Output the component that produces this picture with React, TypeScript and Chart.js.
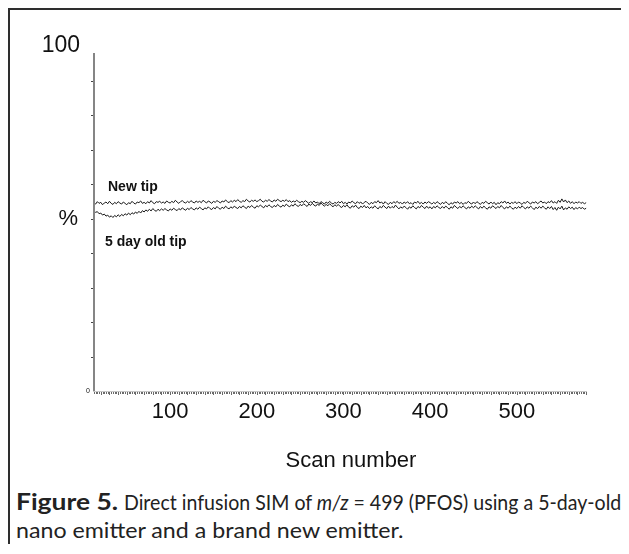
import React, { useEffect, useLayoutEffect, useRef } from "react";
import { Chart, registerables } from "chart.js";

Chart.register(...registerables);

// ---- data ----
const scanStart = 12;
const scanStep = 2;

const newTipSeries = "New tip";
const oldTipSeries = "5 day old tip";

const newTip = [
  54.6, 54.2, 54.9, 54.4, 54.7, 54.0, 54.5, 54.8, 54.3, 55.0, 54.4, 54.1, 54.7, 54.3, 54.9, 54.5, 54.2, 54.8, 54.4, 54.0,
  54.6, 54.3, 55.0, 54.5, 54.2, 54.8, 54.6, 55.1, 54.4, 54.7, 54.3, 54.9, 54.5, 55.2, 54.6, 54.3, 54.9, 54.7, 55.0, 54.5,
  54.8, 54.4, 55.1, 54.7, 54.5, 55.0, 54.6, 55.3, 54.8, 54.4, 54.9, 55.2, 54.7, 54.5, 55.0, 54.6, 55.2, 54.8, 54.5, 55.1,
  54.7, 55.0, 54.6, 55.3, 54.9, 54.5, 55.1, 54.8, 54.4, 55.0, 54.7, 55.2, 54.9, 54.5, 55.1, 54.8, 55.4, 54.9, 54.6, 55.2,
  54.8, 55.3, 54.9, 55.5, 55.0, 54.7, 55.2, 54.9, 55.6, 55.1, 54.8, 55.3, 55.0, 55.4, 54.9, 55.2, 55.6, 55.0, 54.8, 55.3,
  55.0, 55.5, 55.1, 54.8, 55.4, 55.0, 55.6, 55.2, 54.9, 55.3, 55.0, 55.5, 54.9, 55.2, 54.7, 55.1, 54.8, 55.3, 54.9, 54.6,
  55.0, 54.7, 55.2, 54.8, 54.4, 54.9, 54.6, 55.1, 54.5, 54.8, 54.3, 54.9, 54.6, 54.2, 54.8, 54.4, 55.0, 54.5, 54.2, 54.7,
  54.4, 54.9, 54.5, 55.0, 54.3, 54.7, 54.2, 54.8, 54.5, 55.1, 54.6, 54.3, 54.9, 54.4, 54.8, 54.2, 54.7, 55.0, 54.5, 54.1,
  54.7, 54.3, 54.9, 54.6, 55.2, 54.5, 54.8, 54.2, 54.9, 54.4, 54.1, 54.7, 54.3, 54.9, 54.5, 55.0, 54.4, 54.7, 54.2, 54.8,
  54.4, 54.9, 54.3, 54.6, 54.1, 54.8, 54.5, 55.0, 54.3, 54.7, 54.2, 54.8, 54.4, 54.9, 54.6, 54.2, 54.7, 54.3, 54.9, 54.5,
  54.1, 54.7, 54.3, 54.9, 54.4, 54.0, 54.6, 54.2, 54.8, 54.5, 54.9, 54.3, 54.7, 54.1, 54.6, 54.4, 55.0, 54.5, 54.2, 54.8,
  54.3, 54.9, 54.5, 54.1, 54.7, 54.4, 55.0, 54.6, 54.2, 54.8, 54.3, 54.7, 54.0, 54.6, 54.3, 54.9, 54.5, 55.1, 54.4, 54.8,
  54.2, 54.7, 54.4, 54.9, 54.3, 54.8, 54.5, 54.1, 54.7, 54.4, 55.0, 54.6, 54.2, 54.8, 54.5, 54.9, 54.3, 54.7, 55.1, 54.5,
  54.8, 54.3, 54.9, 54.6, 55.2, 54.5, 54.9, 54.4, 55.3, 54.7, 55.7, 54.8, 55.4, 54.6, 55.1, 54.4, 54.9, 54.3, 54.8, 54.5,
  54.9, 54.4, 54.7, 54.3, 54.6,
];

const oldTip = [
  52.3, 51.8, 52.0, 51.4, 51.6, 51.0, 51.3, 50.7, 51.0, 50.4, 50.8, 50.3, 50.9, 50.5, 51.1, 50.6, 51.2, 50.8, 51.4, 51.0,
  51.6, 51.1, 51.7, 51.3, 51.9, 51.5, 52.1, 51.6, 52.3, 51.9, 52.5, 52.1, 52.7, 52.2, 52.9, 52.4, 52.1, 52.7, 52.3, 52.8,
  52.4, 52.9, 52.5, 52.2, 52.8, 52.4, 53.0, 52.6, 52.3, 52.9, 52.5, 53.1, 52.7, 52.4, 53.0, 52.6, 53.2, 52.8, 52.5, 53.1,
  52.7, 53.3, 52.9, 52.5, 53.1, 52.8, 53.4, 52.9, 52.6, 53.2, 52.8, 53.5, 53.0, 52.7, 53.3, 52.9, 53.6, 53.1, 52.8, 53.4,
  53.0, 53.6, 53.2, 52.9, 53.5, 53.1, 53.7, 53.3, 52.9, 53.6, 53.2, 53.8, 53.3, 53.0, 53.7, 53.4, 53.9, 53.5, 53.1, 53.8,
  53.4, 54.0, 53.5, 53.2, 53.8, 53.4, 54.1, 53.6, 53.3, 53.9, 53.5, 54.2, 53.7, 53.4, 54.0, 53.6, 54.3, 53.8, 53.5, 54.1,
  53.7, 54.3, 53.9, 53.5, 54.2, 53.8, 54.4, 53.9, 53.6, 54.2, 53.8, 54.5, 54.0, 53.6, 54.1, 53.7, 54.3, 53.8, 53.4, 54.0,
  53.6, 54.1, 53.5, 53.2, 53.8, 53.4, 54.0, 53.3, 53.0, 53.7, 53.3, 53.9, 53.2, 52.9, 53.6, 53.2, 53.8, 53.1, 53.5, 52.9,
  53.4, 53.0, 53.7, 53.2, 52.8, 53.5, 53.1, 53.8, 53.3, 52.9, 53.6, 53.0, 53.5, 53.1, 53.9, 53.3, 52.8, 53.4, 53.0, 53.6,
  53.2, 52.7, 53.4, 53.0, 53.7, 53.2, 52.8, 53.5, 53.1, 53.8, 53.3, 52.9, 53.6, 53.0, 53.4, 52.8, 53.5, 53.1, 53.7, 53.2,
  52.9, 53.5, 53.0, 53.6, 53.2, 52.7, 53.4, 53.0, 53.8, 53.3, 52.9, 53.5, 53.1, 53.7, 53.2, 52.8, 53.4, 53.0, 53.6, 53.1,
  53.7, 53.2, 52.8, 53.5, 53.0, 53.6, 53.1, 52.7, 53.4, 53.0, 53.7, 53.3, 52.9, 53.5, 53.1, 53.8, 53.2, 52.8, 53.4, 53.0,
  53.6, 53.1, 52.7, 53.3, 52.9, 53.5, 53.0, 53.7, 53.2, 52.8, 53.4, 53.0, 53.6, 53.1, 52.6, 53.3, 52.9, 53.5, 53.0, 53.6,
  53.1, 52.7, 53.4, 52.9, 53.5, 52.6, 53.2, 52.4, 53.3, 52.8, 53.6, 52.5, 53.1, 52.7, 53.4, 52.9, 53.3, 52.6, 53.2, 52.8,
  53.3, 52.9, 53.2, 52.7, 53.0,
];

const xTickLabels = [100, 200, 300, 400, 500];
const yMinorTicks = [10, 20, 30, 40, 50, 60, 70, 80, 90];
const xAxisTitle = "Scan number";
const yTopLabel = "100";
const yUnitLabel = "%";
const yZeroLabel = "0";

const xMin = 11;
const xMax = 581;
const yMin = 0;
const yMax = 98;

const toPoints = (vals: number[]) =>
  vals.map((v, i) => ({ x: scanStart + i * scanStep, y: v }));

const axesPlugin = {
  id: "customAxes",
  afterDraw(chart: any) {
    const { ctx, scales } = chart;
    const x = scales.x;
    const y = scales.y;
    const left = x.getPixelForValue(xMin);
    const right = x.getPixelForValue(xMax);
    const bottom = y.getPixelForValue(0);
    const top = y.getPixelForValue(yMax);
    ctx.save();

    // y axis line
    ctx.strokeStyle = "#858585";
    ctx.lineWidth = 2;
    ctx.beginPath();
    ctx.moveTo(left + 1, top);
    ctx.lineTo(left + 1, bottom + 1);
    ctx.stroke();

    // y minor ticks
    ctx.strokeStyle = "#444";
    ctx.lineWidth = 1;
    yMinorTicks.forEach((v) => {
      const py = Math.round(y.getPixelForValue(v)) + 0.5;
      ctx.beginPath();
      ctx.moveTo(left - 2, py);
      ctx.lineTo(left, py);
      ctx.stroke();
    });

    // x axis line (light)
    ctx.strokeStyle = "#c8c8c8";
    ctx.beginPath();
    ctx.moveTo(left, bottom + 0.5);
    ctx.lineTo(right, bottom + 0.5);
    ctx.stroke();

    // x dense minor ticks
    ctx.strokeStyle = "#6a6a6a";
    for (let s = xMin + 1; s <= xMax; s += 2) {
      const px = Math.round(x.getPixelForValue(s)) + 0.5;
      const len = s % 10 === 0 ? 3 : 2;
      ctx.beginPath();
      ctx.moveTo(px, bottom + 1);
      ctx.lineTo(px, bottom + 1 + len);
      ctx.stroke();
    }

    // tick labels
    ctx.fillStyle = "#111";
    ctx.font = '22px "Liberation Sans", Arial, sans-serif';
    ctx.textAlign = "center";
    ctx.textBaseline = "middle";
    xTickLabels.forEach((v) => {
      ctx.fillText(String(v), x.getPixelForValue(v), bottom + 21);
    });

    // x axis title
    ctx.fillText(xAxisTitle, 351, bottom + 70);

    // y labels
    ctx.textAlign = "right";
    ctx.font = '23px "Liberation Sans", Arial, sans-serif';
    ctx.fillText(yTopLabel, left - 13, y.getPixelForValue(100));
    ctx.font = '22px "Liberation Sans", Arial, sans-serif';
    ctx.fillText(yUnitLabel, left - 15, y.getPixelForValue(50));
    ctx.font = '7px "Liberation Sans", Arial, sans-serif';
    ctx.fillText(yZeroLabel, left - 3, bottom);

    // series labels
    ctx.textAlign = "left";
    ctx.font = 'bold 14px "Liberation Sans", Arial, sans-serif';
    ctx.fillStyle = "#111";
    ctx.fillText(newTipSeries, 108, 187);
    ctx.fillText(oldTipSeries, 105, 242);

    ctx.restore();
  },
};

function FitText(props: { left: number; top: number; target: number; bold?: boolean; children: React.ReactNode }) {
  const ref = useRef<HTMLSpanElement | null>(null);
  useLayoutEffect(() => {
    const el = ref.current;
    if (!el) return;
    el.style.transform = "none";
    const w = el.offsetWidth;
    if (w > 0) el.style.transform = `scaleX(${props.target / w})`;
  });
  return (
    <span
      ref={ref}
      style={{
        position: "absolute",
        left: props.left,
        top: props.top,
        display: "inline-block",
        whiteSpace: "nowrap",
        transformOrigin: "0 50%",
        fontWeight: props.bold ? 700 : 400,
      }}
    >
      {props.children}
    </span>
  );
}

export default function App() {
  const canvasRef = useRef<HTMLCanvasElement | null>(null);

  useEffect(() => {
    const canvas = canvasRef.current;
    if (!canvas) return;
    const chart = new Chart(canvas, {
      type: "line",
      data: {
        datasets: [
          {
            label: newTipSeries,
            data: toPoints(newTip),
            borderColor: "#1a1a1a",
            borderWidth: 1,
            pointRadius: 0,
            tension: 0,
            fill: false,
          },
          {
            label: oldTipSeries,
            data: toPoints(oldTip),
            borderColor: "#1a1a1a",
            borderWidth: 1,
            pointRadius: 0,
            tension: 0,
            fill: false,
          },
        ],
      },
      options: {
        animation: false,
        responsive: false,
        maintainAspectRatio: false,
        devicePixelRatio: 1,
        layout: { padding: { left: 93, right: 42, top: 53, bottom: 89 } },
        plugins: {
          legend: { display: false },
          tooltip: { enabled: false },
        },
        scales: {
          x: { type: "linear", min: xMin, max: xMax, display: false },
          y: { type: "linear", min: yMin, max: yMax, display: false },
        },
      },
      plugins: [axesPlugin],
    });
    return () => chart.destroy();
  }, []);

  return (
    <div
      style={{
        position: "relative",
        width: 611,
        height: 536,
        borderLeft: "2px solid #2e2e2e",
      }}
    >
      <div
        style={{
          position: "absolute",
          left: -2,
          top: 0,
          width: 621,
          height: 2,
          background: "#2e2e2e",
        }}
      />
      <canvas
        ref={canvasRef}
        width={629}
        height={480}
        style={{ position: "absolute", left: -10, top: -8, width: 629, height: 480, display: "block" }}
      />
      <div
        style={{
          position: "absolute",
          left: 0,
          top: 0,
          fontFamily: 'Lato, "Open Sans", sans-serif',
          fontSize: 22,
          lineHeight: "28px",
          color: "#222",
        }}
      >
        <FitText left={6} top={480} target={102} bold>
          Figure 5.
        </FitText>
        <FitText left={114} top={480} target={497}>
          Direct infusion SIM of <i>m/z</i> = 499 (PFOS) using a 5-day-old
        </FitText>
        <FitText left={6} top={508} target={388}>
          nano emitter and a brand new emitter.
        </FitText>
      </div>
    </div>
  );
}
